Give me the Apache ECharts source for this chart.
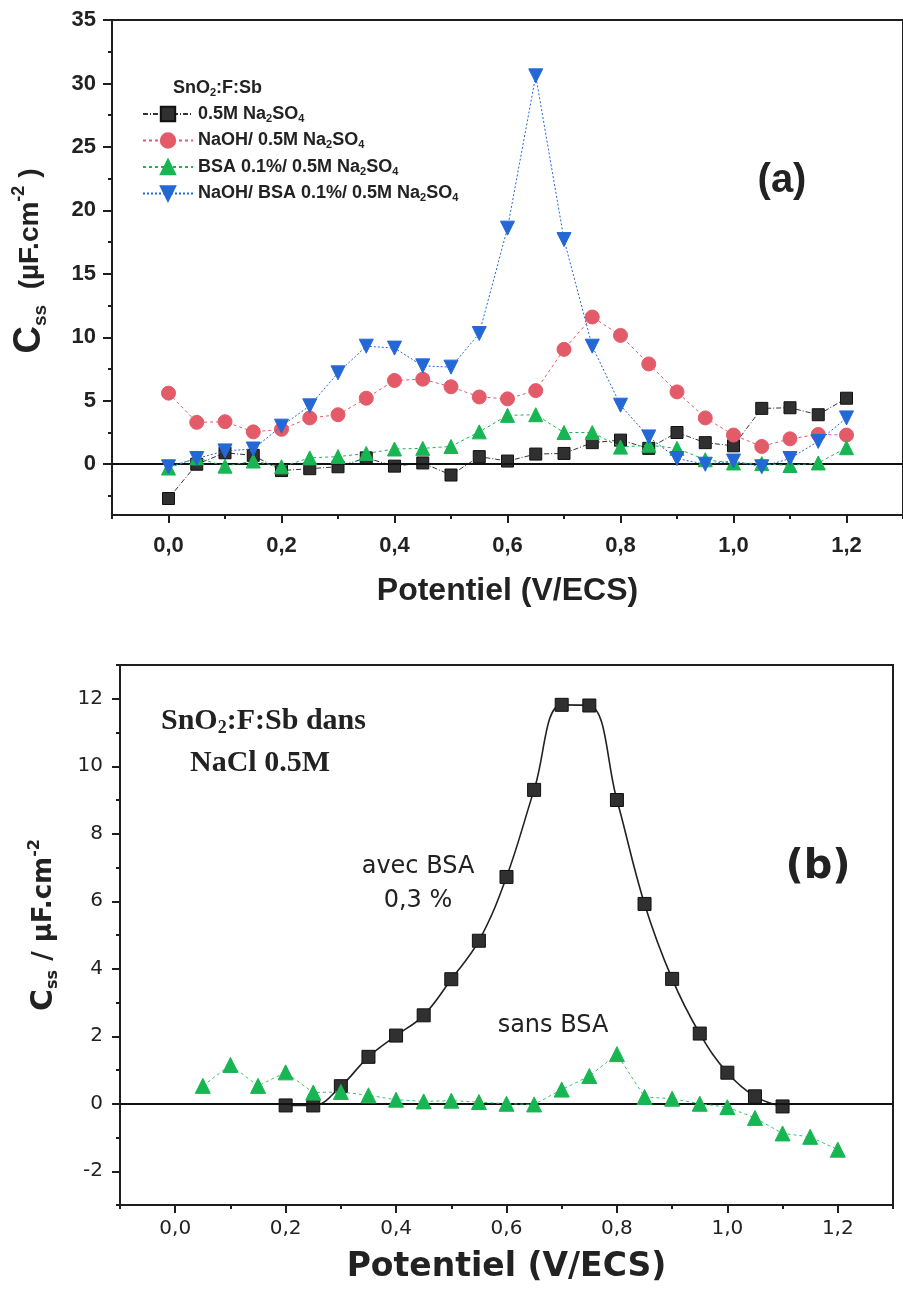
<!DOCTYPE html>
<html><head><meta charset="utf-8">
<script src="https://cdn.jsdelivr.net/npm/echarts@6/dist/echarts.min.js"></script>
<style>html,body{margin:0;padding:0;background:#fff}#c{width:903px;height:1289px}</style>
</head><body><div id="c"></div>
<script>
// ---------- Panel (a) data ----------
const potA = [0,0.05,0.1,0.15,0.2,0.25,0.3,0.35,0.4,0.45,0.5,0.55,0.6,0.65,0.7,0.75,0.8,0.85,0.9,0.95,1.0,1.05,1.1,1.15,1.2];
const naso4 = [-2.7,0.0,0.9,0.7,-0.5,-0.35,-0.2,0.5,-0.15,0.1,-0.85,0.6,0.25,0.8,0.85,1.7,1.9,1.25,2.5,1.7,1.45,4.4,4.45,3.9,5.2];
const naohNaso4 = [5.6,3.3,3.35,2.55,2.75,3.65,3.9,5.2,6.6,6.7,6.1,5.3,5.15,5.8,9.05,11.6,10.15,7.9,5.7,3.65,2.3,1.4,2.0,2.35,2.3];
const bsaNaso4 = [-0.3,0.5,-0.15,0.25,-0.2,0.5,0.6,0.85,1.2,1.25,1.4,2.55,3.85,3.9,2.5,2.5,1.35,1.5,1.25,0.35,0.1,0.05,-0.1,0.1,1.3];
const naohBsaNaso4 = [-0.2,0.45,1.05,1.2,3.0,4.6,7.2,9.3,9.15,7.75,7.65,10.3,18.6,30.6,17.7,9.3,4.65,2.15,0.45,0.0,0.25,-0.2,0.45,1.8,3.65];
const namesA = ['0.5M Na2SO4','NaOH/ 0.5M Na2SO4','BSA 0.1%/ 0.5M Na2SO4','NaOH/ BSA 0.1%/ 0.5M Na2SO4'];

// ---------- Panel (b) data ----------
const potAvec = [0.2,0.25,0.3,0.35,0.4,0.45,0.5,0.55,0.6,0.65,0.7,0.75,0.8,0.85,0.9,0.95,1.0,1.05,1.1];
const avecBSA = [-0.05,-0.05,0.52,1.39,2.02,2.62,3.69,4.83,6.72,9.3,11.82,11.8,9.0,5.92,3.7,2.08,0.92,0.22,-0.08];
const potSans = [0.05,0.1,0.15,0.2,0.25,0.3,0.35,0.4,0.45,0.5,0.55,0.6,0.65,0.7,0.75,0.8,0.85,0.9,0.95,1.0,1.05,1.1,1.15,1.2];
const sansBSA = [0.53,1.15,0.53,0.93,0.33,0.35,0.25,0.12,0.07,0.09,0.05,0.0,-0.02,0.42,0.82,1.47,0.2,0.15,0.0,-0.1,-0.42,-0.88,-0.98,-1.36];

// ---------- Tick labels ----------
const xTicks = [0,0.2,0.4,0.6,0.8,1.0,1.2];
const xMinor = [-0.1,0.1,0.3,0.5,0.7,0.9,1.1,1.3];
const yTicksA = [0,5,10,15,20,25,30,35];
const yMinorA = [-2.5,2.5,7.5,12.5,17.5,22.5,27.5,32.5];
const yTicksB = [-2,0,2,4,6,8,10,12];
const yMinorB = [-3,-1,1,3,5,7,9,11,13];

const zip = (xs, ys) => xs.map((x, i) => [x, ys[i]]);
const comma = v => v.toFixed(1).replace('.', ',');
const AX = '#1e1e1e';
const boldA = "'Liberation Sans Narrow','Arial Narrow','Liberation Sans',Arial,sans-serif";
const wideB = "'DejaVu Sans','Liberation Sans',sans-serif";

function majorX(grid, font, size, weight, margin, name, nameSize, nameGap, nameFont, len) {
  return {
    gridIndex: grid, type: 'value', min: -0.1, max: 1.3, position: 'bottom',
    axisLine: {show: true, onZero: false, lineStyle: {color: AX, width: 2}},
    axisTick: {show: true, customValues: xTicks, length: len, lineStyle: {color: AX, width: 2}},
    axisLabel: {customValues: xTicks, formatter: comma, margin: margin, color: '#222',
      fontFamily: font, fontSize: size, fontWeight: weight},
    splitLine: {show: false},
    name: name, nameLocation: 'middle', nameGap: nameGap,
    nameTextStyle: {fontFamily: nameFont, fontSize: nameSize, fontWeight: 'bold', color: '#222'}
  };
}
function minorX(grid) {
  return {
    gridIndex: grid, type: 'value', min: -0.1, max: 1.3, position: 'bottom',
    axisLine: {show: false, onZero: false},
    axisTick: {show: true, customValues: xMinor, length: 4, lineStyle: {color: AX, width: 2}},
    axisLabel: {show: false}, splitLine: {show: false}
  };
}
function majorY(grid, ticks, min, max, font, size, weight, margin, len) {
  return {
    gridIndex: grid, type: 'value', min: min, max: max, position: 'left',
    axisLine: {show: true, onZero: false, lineStyle: {color: AX, width: 2}},
    axisTick: {show: true, customValues: ticks, length: len, lineStyle: {color: AX, width: 2}},
    axisLabel: {customValues: ticks, margin: margin, color: '#222',
      fontFamily: font, fontSize: size, fontWeight: weight},
    splitLine: {show: false}
  };
}
function minorY(grid, ticks, min, max) {
  return {
    gridIndex: grid, type: 'value', min: min, max: max, position: 'left',
    axisLine: {show: false, onZero: false},
    axisTick: {show: true, customValues: ticks, length: 4, lineStyle: {color: AX, width: 2}},
    axisLabel: {show: false}, splitLine: {show: false}
  };
}

const richA = {
  c: {font: "bold 38px 'Liberation Sans'", lineHeight: 40, fill: '#222'},
  s: {font: "bold 19px 'Liberation Sans'", lineHeight: 16, verticalAlign: 'bottom', fill: '#222'},
  t: {font: "bold 28px 'Liberation Sans'", lineHeight: 40, fill: '#222'},
  p: {font: "bold 18px 'Liberation Sans'", lineHeight: 18, verticalAlign: 'top', fill: '#222'}
};
const richB = {
  c: {font: "bold 30px 'DejaVu Sans'", lineHeight: 34, fill: '#222'},
  s: {font: "bold 16px 'DejaVu Sans'", lineHeight: 13, verticalAlign: 'bottom', fill: '#222'},
  t: {font: "bold 26px 'DejaVu Sans'", lineHeight: 34, fill: '#222'},
  p: {font: "bold 16px 'DejaVu Sans'", lineHeight: 13, verticalAlign: 'top', fill: '#222'}
};

const legendRich = {
  t: {fontFamily: 'Liberation Sans', fontSize: 18, fontWeight: 'bold', lineHeight: 20, color: '#222'},
  s: {fontFamily: 'Liberation Sans', fontSize: 11, fontWeight: 'bold', lineHeight: 8, verticalAlign: 'bottom', color: '#222'}
};
function subFmt(name) {
  return name.split(/(\d)(?=SO|$)/).filter(p => p !== '').map(p =>
    /^\d$/.test(p) ? '{s|' + p + '}' : '{t|' + p + '}').join('');
}

const zeroLine = {silent: true, symbol: 'none', label: {show: false},
  lineStyle: {color: '#111', width: 2, type: 'solid'}, data: [{yAxis: 0}]};

const styleA = [
  {symbol: 'rect', size: 12, color: '#303030', border: '#111', line: '#333', type: [5, 2, 1, 2], rot: 0},
  {symbol: 'circle', size: 14, color: '#e35b69', border: '#e35b69', line: '#e35b69', type: [3, 3], rot: 0},
  {symbol: 'triangle', size: 14, color: '#18b653', border: '#18b653', line: '#18b653', type: [3, 3], rot: 0},
  {symbol: 'triangle', size: 14, color: '#2468d6', border: '#2468d6', line: '#2468d6', type: [2, 2], rot: 180}
];
const dataA = [naso4, naohNaso4, bsaNaso4, naohBsaNaso4];

const seriesA = dataA.map((vals, i) => ({
  name: namesA[i], type: 'line', xAxisIndex: 0, yAxisIndex: 0,
  data: zip(potA, vals), symbol: styleA[i].symbol, symbolSize: styleA[i].size,
  symbolRotate: styleA[i].rot, showAllSymbol: true,
  itemStyle: {color: styleA[i].color, borderColor: styleA[i].border, borderWidth: 1},
  lineStyle: {color: styleA[i].line, width: 1, type: styleA[i].type},
  z: 3 + i,
  markLine: i === 0 ? zeroLine : undefined
}));

const seriesB = [
  {name: 'avec BSA', type: 'line', xAxisIndex: 2, yAxisIndex: 2, data: zip(potAvec, avecBSA),
   smooth: 0.4, symbol: 'rect', symbolSize: 13, showAllSymbol: true,
   itemStyle: {color: '#303030', borderColor: '#111', borderWidth: 1},
   lineStyle: {color: '#222', width: 1.6}, z: 4, markLine: zeroLine},
  {name: 'sans BSA', type: 'line', xAxisIndex: 2, yAxisIndex: 2, data: zip(potSans, sansBSA),
   symbol: 'triangle', symbolSize: 15, showAllSymbol: true,
   itemStyle: {color: '#18b653', borderColor: '#18b653', borderWidth: 1},
   lineStyle: {color: '#35c46a', width: 1, type: [3, 3]}, z: 5}
];

const option = {
  animation: false,
  backgroundColor: '#fff',
  grid: [
    {left: 112, top: 20, width: 793, height: 495, show: true, borderColor: AX, borderWidth: 2, backgroundColor: 'transparent'},
    {left: 120, top: 665, width: 773, height: 540, show: true, borderColor: AX, borderWidth: 2, backgroundColor: 'transparent'}
  ],
  xAxis: [
    majorX(0, boldA, 22, 'bold', 20, 'Potentiel (V/ECS)', 32, 60, 'Liberation Sans', 8),
    minorX(0),
    majorX(1, wideB, 20, 'normal', 14, 'Potentiel (V/ECS)', 33, 46, wideB, 8),
    minorX(1)
  ],
  yAxis: [
    majorY(0, yTicksA, -4, 35, boldA, 22, 'bold', 16, 9),
    minorY(0, yMinorA, -4, 35),
    majorY(1, yTicksB, -3, 13, wideB, 20, 'normal', 17, 8),
    minorY(1, yMinorB, -3, 13)
  ],
  legend: {
    orient: 'vertical', left: 142, top: 105, itemWidth: 50, itemHeight: 18, itemGap: 7.5,
    padding: 0, data: namesA, formatter: subFmt,
    textStyle: {rich: legendRich, fontSize: 18, fontWeight: 'bold', color: '#222'}
  },
  graphic: [
    {type: 'text', x: 30, y: 261, rotation: Math.PI / 2, z: 100, style: {
      text: '{c|C}{s|ss}{t|  (µF.cm}{p|-2}{t| )}', align: 'center', verticalAlign: 'middle', rich: richA}},
    {type: 'text', x: 44, y: 925, rotation: Math.PI / 2, z: 100, style: {
      text: '{c|C}{s|ss}{t| / µF.cm}{p|-2}', align: 'center', verticalAlign: 'middle', rich: richB}},
    {type: 'text', x: 173, y: 88, z: 100, style: {text: '{b|SnO}{s|2}{b|:F:Sb}', verticalAlign: 'middle',
      rich: {b: {font: "bold 18px 'Liberation Sans'", lineHeight: 20, fill: '#222'},
             s: {font: "bold 11px 'Liberation Sans'", lineHeight: 8, verticalAlign: 'bottom', fill: '#222'}}}},
    {type: 'text', x: 782, y: 181, z: 100, style: {text: '(a)', align: 'center', verticalAlign: 'middle',
      font: "bold 40px 'Liberation Sans'", fill: '#222'}},
    {type: 'text', x: 161, y: 721, z: 100, style: {text: '{b|SnO}{s|2}{b|:F:Sb dans}', verticalAlign: 'middle',
      rich: {b: {font: "bold 30px 'Liberation Serif'", lineHeight: 32, fill: '#222'},
             s: {font: "bold 18px 'Liberation Serif'", lineHeight: 14, verticalAlign: 'bottom', fill: '#222'}}}},
    {type: 'text', x: 190, y: 763, z: 100, style: {text: 'NaCl 0.5M', verticalAlign: 'middle',
      font: "bold 30px 'Liberation Serif'", fill: '#222'}},
    {type: 'text', x: 418, y: 867, z: 100, style: {text: 'avec BSA', align: 'center', verticalAlign: 'middle',
      font: "24px 'DejaVu Sans'", fill: '#222'}},
    {type: 'text', x: 418, y: 901, z: 100, style: {text: '0,3 %', align: 'center', verticalAlign: 'middle',
      font: "24px 'DejaVu Sans'", fill: '#222'}},
    {type: 'text', x: 553, y: 1026, z: 100, style: {text: 'sans BSA', align: 'center', verticalAlign: 'middle',
      font: "24px 'DejaVu Sans'", fill: '#222'}},
    {type: 'text', x: 818, y: 868, z: 100, style: {text: '(b)', align: 'center', verticalAlign: 'middle',
      font: "bold 40px 'DejaVu Sans'", fill: '#222'}}
  ],
  series: seriesA.concat(seriesB)
};

const chart = echarts.init(document.getElementById('c'), null, {renderer: 'canvas'});
chart.setOption(option);
</script>
</body></html>
